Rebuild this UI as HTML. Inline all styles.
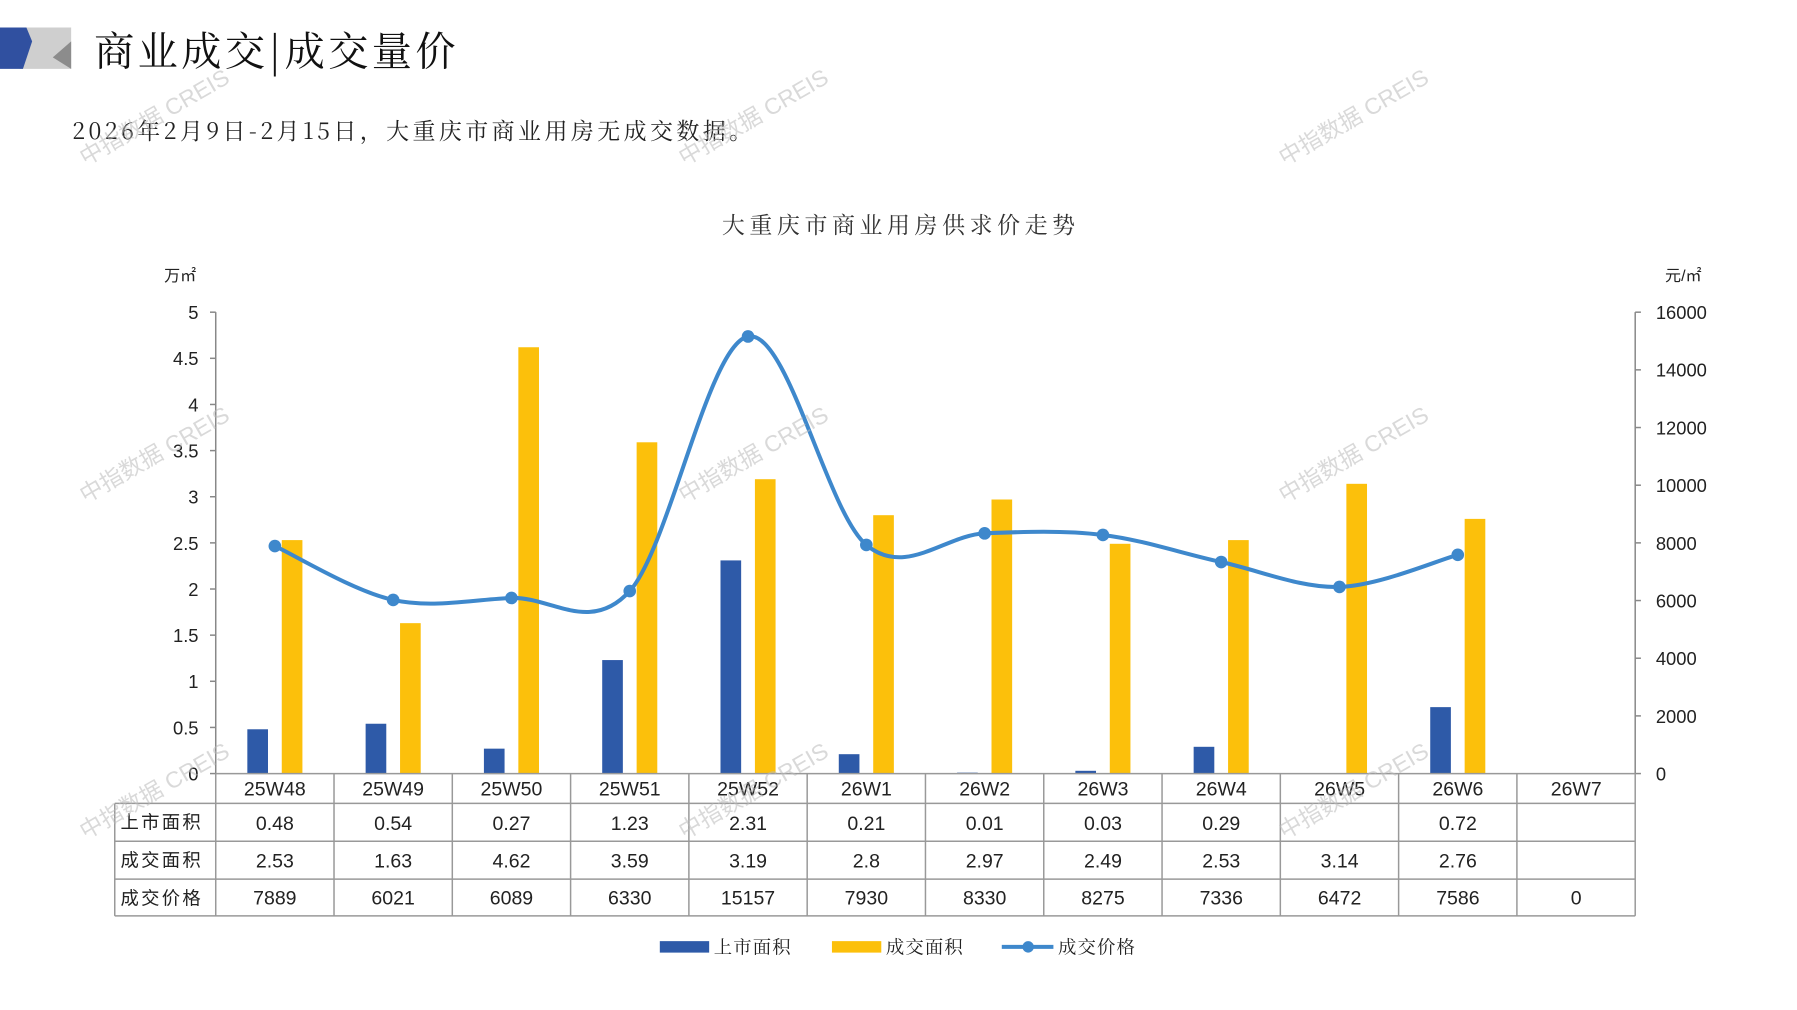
<!DOCTYPE html>
<html><head><meta charset="utf-8"><style>
html,body{margin:0;padding:0;background:#fff;}
svg{display:block;}
text{font-family:"Liberation Sans","Noto Sans CJK SC",sans-serif;}
.cjk{font-family:"Noto Serif CJK SC","Noto Sans CJK SC",serif;}
</style></head><body>
<svg id="s" width="1797" height="1010" viewBox="0 0 1566 880" preserveAspectRatio="none" xmlns="http://www.w3.org/2000/svg">
<polygon points="20,24 62,24 62,60 17,60" fill="#cfcfcf"/>
<polygon points="46,50 62,36 62,60" fill="#8c8c8c"/>
<polygon points="0,24 23,24 28,36 20,60 0,60" fill="#3050a0"/>
<text x="82" y="57" font-size="35" letter-spacing="3" class="cjk" fill="#111">商业成交|成交量价</text>
<text x="63" y="121" font-size="20" letter-spacing="3" class="cjk" fill="#222">2026年2月9日-2月15日，大重庆市商业用房无成交数据。</text>
<text x="785" y="203" font-size="20" letter-spacing="4" text-anchor="middle" class="cjk" fill="#333">大重庆市商业用房供求价走势</text>
<text x="143" y="245" font-size="14" fill="#222">万㎡</text>
<text x="1451" y="245" font-size="14" fill="#222">元/㎡</text>
<g id="axes" stroke="#888" stroke-width="1.3"></g>
<g id="labels" font-size="16" fill="#222"></g>
<g id="bars"></g>
<path id="curve" fill="none" stroke="#3e88cc" stroke-width="3.5"/>
<g id="dots" fill="#3e88cc"></g>
<g id="tbl" stroke="#999" stroke-width="1.3" fill="none"></g>
<g font-size="16" fill="#222" class="cjk" letter-spacing="2">
<text x="105" y="722">上市面积</text>
<text x="105" y="755">成交面积</text>
<text x="105" y="788">成交价格</text>
</g>
<g font-size="17" fill="#222" text-anchor="middle">
<text x="239.5" y="693">25W48</text><text x="342.6" y="693">25W49</text><text x="445.7" y="693">25W50</text><text x="548.8" y="693">25W51</text><text x="651.9" y="693">25W52</text><text x="755" y="693">26W1</text><text x="858.1" y="693">26W2</text><text x="961.2" y="693">26W3</text><text x="1064.3" y="693">26W4</text><text x="1167.4" y="693">26W5</text><text x="1270.5" y="693">26W6</text><text x="1373.6" y="693">26W7</text>
<text x="239.5" y="723">0.48</text><text x="342.6" y="723">0.54</text><text x="445.7" y="723">0.27</text><text x="548.8" y="723">1.23</text><text x="651.9" y="723">2.31</text><text x="755" y="723">0.21</text><text x="858.1" y="723">0.01</text><text x="961.2" y="723">0.03</text><text x="1064.3" y="723">0.29</text><text x="1270.5" y="723">0.72</text>
<text x="239.5" y="756">2.53</text><text x="342.6" y="756">1.63</text><text x="445.7" y="756">4.62</text><text x="548.8" y="756">3.59</text><text x="651.9" y="756">3.19</text><text x="755" y="756">2.8</text><text x="858.1" y="756">2.97</text><text x="961.2" y="756">2.49</text><text x="1064.3" y="756">2.53</text><text x="1167.4" y="756">3.14</text><text x="1270.5" y="756">2.76</text>
<text x="239.5" y="788">7889</text><text x="342.6" y="788">6021</text><text x="445.7" y="788">6089</text><text x="548.8" y="788">6330</text><text x="651.9" y="788">15157</text><text x="755" y="788">7930</text><text x="858.1" y="788">8330</text><text x="961.2" y="788">8275</text><text x="1064.3" y="788">7336</text><text x="1167.4" y="788">6472</text><text x="1270.5" y="788">7586</text><text x="1373.6" y="788">0</text>
</g>
<rect x="575" y="820" width="43" height="10" fill="#2e5aa8"/>
<text x="622" y="831" font-size="16" letter-spacing="1" class="cjk" fill="#222">上市面积</text>
<rect x="725" y="820" width="43" height="10" fill="#fcc00b"/>
<text x="772" y="831" font-size="16" letter-spacing="1" class="cjk" fill="#222">成交面积</text>
<line x1="873" y1="825" x2="918" y2="825" stroke="#3e88cc" stroke-width="3.5"/>
<circle cx="896" cy="825" r="5" fill="#3e88cc"/>
<text x="922" y="831" font-size="16" letter-spacing="1" class="cjk" fill="#222">成交价格</text>
<g id="wm" font-size="20" fill="#bbb" opacity="0.55"></g>
</svg>
<script>
var NS="http://www.w3.org/2000/svg";
function el(p,t,a,txt){var e=document.createElementNS(NS,t);for(var k in a)e.setAttribute(k,a[k]);if(txt!=null)e.textContent=txt;document.getElementById(p).appendChild(e);return e;}
var x0=188,x1=1425,yT=272,yB=674,cw=(x1-x0)/12;
el('axes','line',{x1:x0,y1:yT,x2:x0,y2:yB});
el('axes','line',{x1:x1,y1:yT,x2:x1,y2:yB});
for(var i=0;i<=10;i++){var y=yB-i*(yB-yT)/10;el('axes','line',{x1:x0-5,y1:y,x2:x0,y2:y});
 el('labels','text',{x:173,y:y+6,'text-anchor':'end'},String(i/2));}
for(var i=0;i<=8;i++){var y=yB-i*(yB-yT)/8;el('axes','line',{x1:x1,y1:y,x2:x1+5,y2:y});
 el('labels','text',{x:1443,y:y+6},String(i*2000));}
var bl=[.48,.54,.27,1.23,2.31,.21,.01,.03,.29,0,.72];
var ye=[2.53,1.63,4.62,3.59,3.19,2.8,2.97,2.49,2.53,3.14,2.76];
var pr=[7889,6021,6089,6330,15157,7930,8330,8275,7336,6472,7586];
var pts=[];
for(var i=0;i<11;i++){var c=x0+cw*(i+.5);
 var h=bl[i]*(yB-yT)/5; if(h>0)el('bars','rect',{x:c-24,y:yB-h,width:18,height:h,fill:'#2e5aa8'});
 h=ye[i]*(yB-yT)/5; el('bars','rect',{x:c+6,y:yB-h,width:18,height:h,fill:'#fcc00b'});
 pts.push([c,yB-pr[i]*(yB-yT)/16000]);}
var d="M"+pts[0][0]+","+pts[0][1];
for(var i=0;i<pts.length-1;i++){var p0=pts[i-1]||pts[i],p1=pts[i],p2=pts[i+1],p3=pts[i+2]||p2;
 d+=" C"+(p1[0]+(p2[0]-p0[0])/6)+","+(p1[1]+(p2[1]-p0[1])/6)+" "+(p2[0]-(p3[0]-p1[0])/6)+","+(p2[1]-(p3[1]-p1[1])/6)+" "+p2[0]+","+p2[1];}
document.getElementById('curve').setAttribute('d',d);
pts.forEach(function(p){el('dots','circle',{cx:p[0],cy:p[1],r:5.5});});
var rows=[674,700,733,766,798];
el('tbl','line',{x1:x0,y1:674,x2:x1,y2:674});
for(var r=1;r<5;r++)el('tbl','line',{x1:100,y1:rows[r],x2:x1,y2:rows[r]});
el('tbl','line',{x1:100,y1:700,x2:100,y2:798});
for(var k=0;k<=12;k++){var x=x0+cw*k;el('tbl','line',{x1:x,y1:674,x2:x,y2:798});}
[[138,108],[660,108],[1183,108],[138,402],[660,402],[1183,402],[138,695],[660,695],[1183,695]].forEach(function(p){
 el('wm','text',{x:p[0],y:p[1],'text-anchor':'middle',transform:'rotate(-30 '+p[0]+' '+p[1]+')'},'中指数据 CREIS');});
</script>
</body></html>
